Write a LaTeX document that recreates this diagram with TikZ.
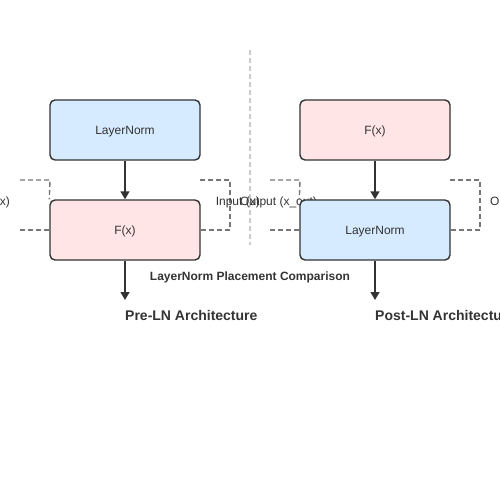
\documentclass[tikz,border=0pt]{standalone}
\usepackage{fontspec}
\setmainfont{Liberation Sans}
\usetikzlibrary{arrows.meta}
\definecolor{lnblue}{HTML}{D6EBFF}
\definecolor{fpink}{HTML}{FFE5E5}
\definecolor{edge}{HTML}{333333}
\definecolor{dashc}{HTML}{777777}
\definecolor{divc}{HTML}{CCCCCC}
\begin{document}
\begin{tikzpicture}[x=1pt,y=-1pt,
  blk/.style={draw=edge,line width=1.4pt,rounded corners=5pt,minimum width=150pt,minimum height=60pt,inner sep=0pt,font=\fontsize{12}{14}\selectfont,text=edge,text height=9.5pt,text depth=0pt},
  lnbox/.style={blk,fill=lnblue},
  fbox/.style={blk,fill=fpink},
  flow/.style={draw=edge,line width=1.4pt,-{Triangle[length=8pt,width=9pt]}},
  resid/.style={draw=dashc,line width=1.4pt,dash pattern=on 5pt off 3pt},
  lbl/.style={font=\fontsize{12}{14}\selectfont,text=edge,inner sep=0pt}]
\useasboundingbox (0,0) rectangle (500,500);
% divider
\coordinate (d1) at (250,50);
\coordinate (d2) at (250,245);
\draw[draw=divc,line width=1.4pt,dash pattern=on 5pt off 3pt] (d1) -- (d2);
% Pre-LN
\node[lnbox] (ln1) at (125,130) {LayerNorm};
\node[fbox] (f1) at (125,230) {F(x)};
\coordinate (o1) at (125,300);
\draw[flow] (ln1) -- (f1);
\draw[flow] (f1) -- (o1);
\coordinate (a1) at (20,180);
\coordinate (a2) at (20,230);
\coordinate (a3) at (230,180);
\coordinate (a4) at (230,230);
\draw[resid] (a1) -- (50,180) -- (f1.north west);
\draw[resid] (a2) -- (f1.west);
\draw[resid] (f1.east) -- (a4) -- (a3) -- (200,180);
\node[lbl,anchor=base east] (in1) at (10,205) {Input (x)};
\node[lbl,anchor=base west] (out1) at (240,205) {Output (x\_out)};
\node[font=\bfseries\fontsize{14}{16}\selectfont,text=edge,anchor=base west,inner sep=0pt] (t1) at (125,320) {Pre-LN Architecture};
% Post-LN
\node[fbox] (f2) at (375,130) {F(x)};
\node[lnbox] (ln2) at (375,230) {LayerNorm};
\coordinate (o2) at (375,300);
\draw[flow] (f2) -- (ln2);
\draw[flow] (ln2) -- (o2);
\coordinate (b1) at (270,180);
\coordinate (b2) at (270,230);
\coordinate (b3) at (480,180);
\coordinate (b4) at (480,230);
\draw[resid] (b1) -- (300,180) -- (ln2.north west);
\draw[resid] (b2) -- (ln2.west);
\draw[resid] (ln2.east) -- (b4) -- (b3) -- (450,180);
\node[lbl,anchor=base east] (in2) at (260,205) {Input (x)};
\node[lbl,anchor=base west] (out2) at (490,205) {Output (x\_out)};
\node[font=\bfseries\fontsize{14}{16}\selectfont,text=edge,anchor=base west,inner sep=0pt] (t2) at (375,320) {Post-LN Architecture};
% title
\node[font=\bfseries\fontsize{12}{14}\selectfont,text=edge,anchor=base,inner sep=0pt] (title) at (250,280) {LayerNorm Placement Comparison};
\end{tikzpicture}
\end{document}
